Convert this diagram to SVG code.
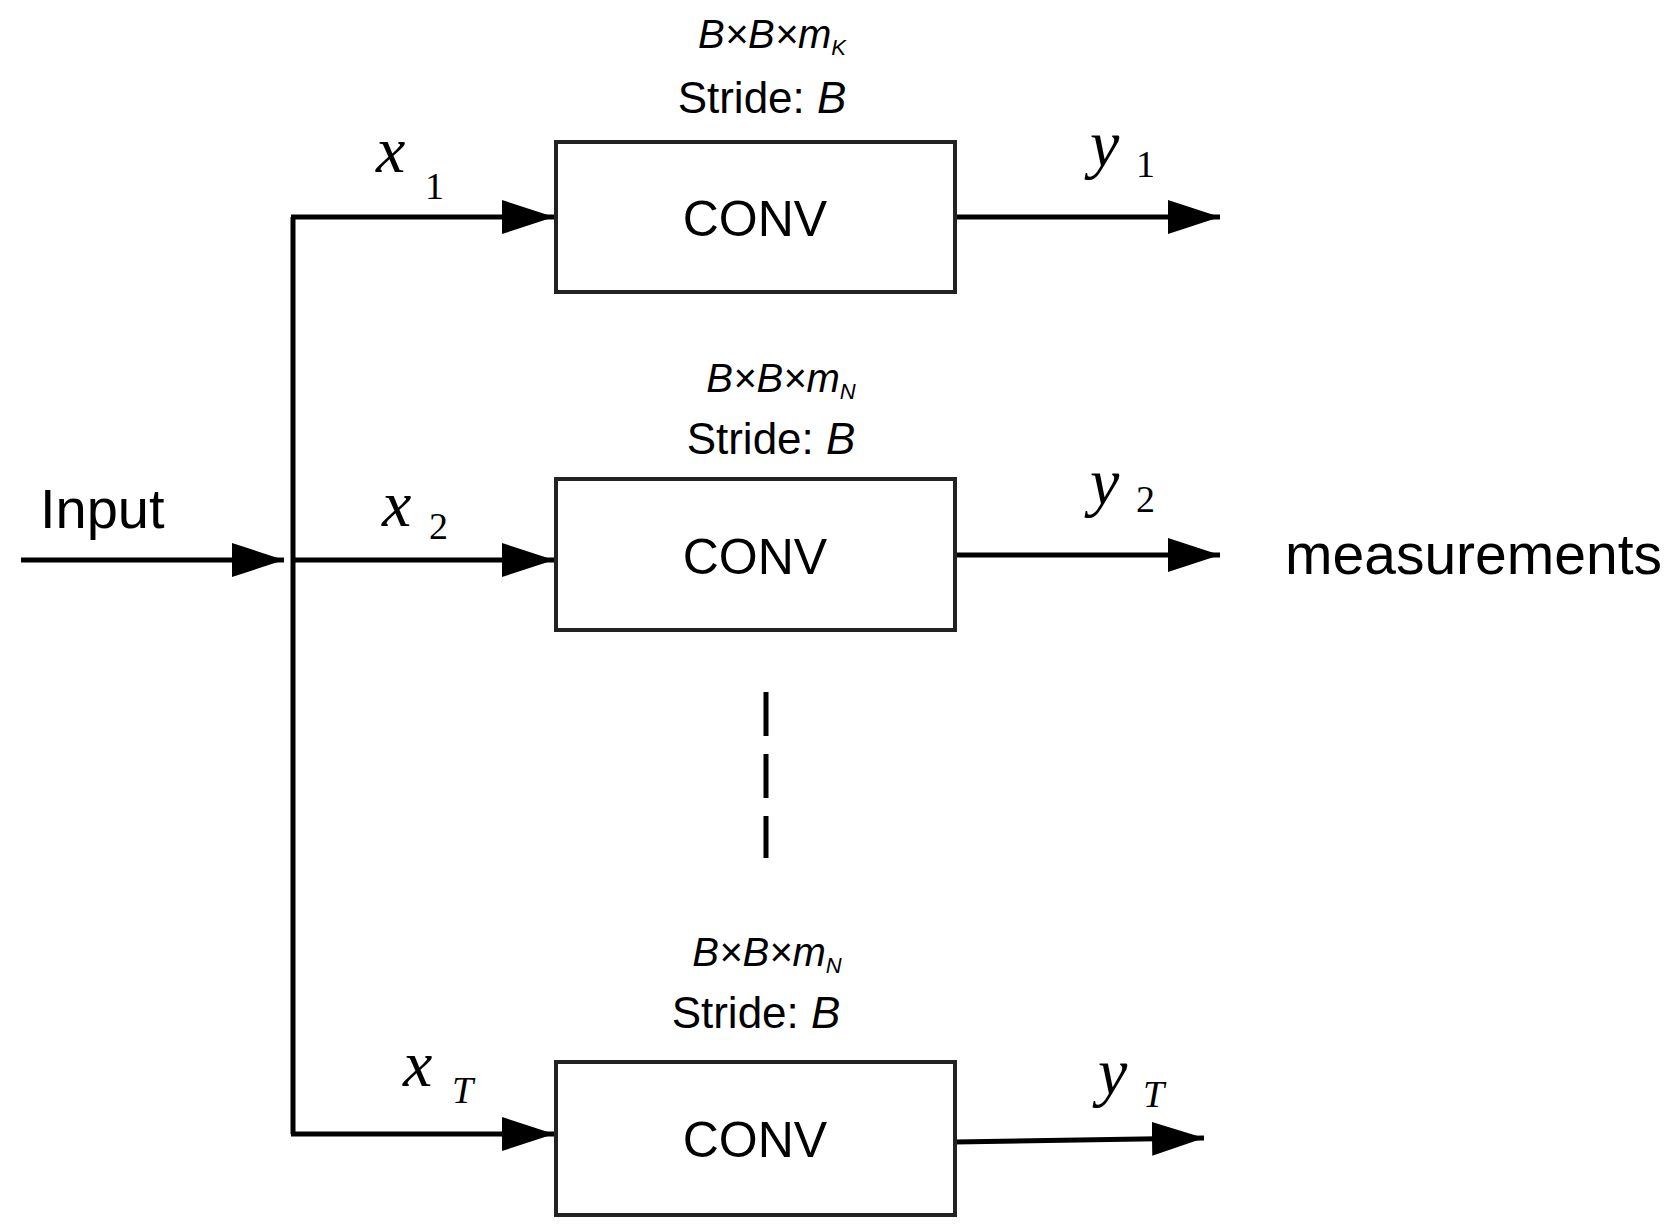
<svg xmlns="http://www.w3.org/2000/svg" width="1675" height="1227" viewBox="0 0 1675 1227">
<defs>
<marker id="ah" markerUnits="userSpaceOnUse" markerWidth="52" markerHeight="34" refX="52" refY="17" orient="auto"><path d="M0,0 L52,17 L0,34 Z" fill="#000"/></marker>
<style>
.box{fill:#fff;stroke:#222;stroke-width:4}
.ln{stroke:#000;stroke-width:5;fill:none}
.t{font-family:"Liberation Sans",Arial,sans-serif;fill:#000}
.m{font-family:"Liberation Serif","Times New Roman",serif;font-style:italic;fill:#000}
.s{font-family:"Liberation Serif","Times New Roman",serif;fill:#000}
</style>
</defs>
<rect width="1675" height="1227" fill="#fff"/>
<g id="connectors">
<path class="ln" d="M21,560 L284,560" marker-end="url(#ah)"/>
<path class="ln" d="M293,217 L293,1134"/>
<path class="ln" d="M291,217 L554,217" marker-end="url(#ah)"/>
<path class="ln" d="M293,560 L554,560" marker-end="url(#ah)"/>
<path class="ln" d="M291,1134 L554,1134" marker-end="url(#ah)"/>
<path class="ln" d="M955,217 L1220,217" marker-end="url(#ah)"/>
<path class="ln" d="M955,555 L1220,555" marker-end="url(#ah)"/>
<path class="ln" d="M955,1142 L1204,1138" marker-end="url(#ah)"/>
<path class="ln" d="M766,692 L766,858" stroke-dasharray="44,18"/>
</g>
<g id="input"><text class="t" x="40" y="528" font-size="56">Input</text></g>
<g id="conv1">
<rect class="box" x="556" y="142" width="399" height="150"/>
<text class="t" x="755" y="236" font-size="50" text-anchor="middle">CONV</text>
<text class="t" x="772" y="48" font-size="40" text-anchor="middle" font-style="italic">B×B×m<tspan font-size="22" dy="7">K</tspan></text>
<text class="t" x="762" y="113" font-size="44" text-anchor="middle">Stride: <tspan font-style="italic">B</tspan></text>
</g>
<g id="conv2">
<rect class="box" x="556" y="479" width="399" height="151"/>
<text class="t" x="755" y="574" font-size="50" text-anchor="middle">CONV</text>
<text class="t" x="781" y="392" font-size="40" text-anchor="middle" font-style="italic">B×B×m<tspan font-size="22" dy="7">N</tspan></text>
<text class="t" x="771" y="454" font-size="44" text-anchor="middle">Stride: <tspan font-style="italic">B</tspan></text>
</g>
<g id="conv3">
<rect class="box" x="556" y="1062" width="399" height="153"/>
<text class="t" x="755" y="1157" font-size="50" text-anchor="middle">CONV</text>
<text class="t" x="767" y="966" font-size="40" text-anchor="middle" font-style="italic">B×B×m<tspan font-size="22" dy="7">N</tspan></text>
<text class="t" x="756" y="1028" font-size="44" text-anchor="middle">Stride: <tspan font-style="italic">B</tspan></text>
</g>
<g id="labels">
<text class="m" x="376" y="172" font-size="66">x</text><text class="s" x="425" y="199" font-size="38">1</text>
<text class="m" x="382" y="526" font-size="66">x</text><text class="s" x="429" y="539" font-size="38">2</text>
<text class="m" x="403" y="1086" font-size="66">x</text><text class="m" x="452" y="1103" font-size="38">T</text>
<text class="m" x="1090" y="166" font-size="66">y</text><text class="s" x="1136" y="177" font-size="38">1</text>
<text class="m" x="1090" y="504" font-size="66">y</text><text class="s" x="1136" y="512" font-size="38">2</text>
<text class="m" x="1098" y="1094" font-size="66">y</text><text class="m" x="1143" y="1107" font-size="38">T</text>
<text class="t" x="1285" y="574" font-size="57">measurements</text>
</g>
</svg>
